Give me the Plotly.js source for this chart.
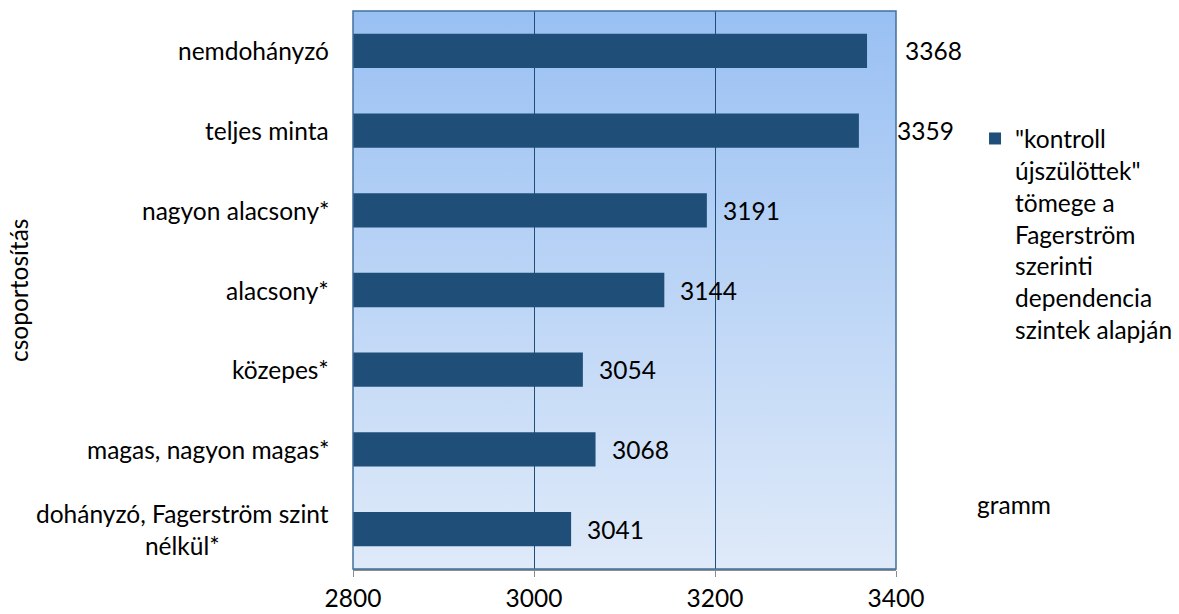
<!DOCTYPE html>
<html>
<head>
<meta charset="utf-8">
<script src="https://cdn.plot.ly/plotly-3.0.1.min.js"></script>
<style>html,body{margin:0;padding:0;background:#fff;}#chart{width:1179px;height:614px;}</style>
</head>
<body>
<div id="chart"></div>
<script>
const categories = ['nemdohányzó', 'teljes minta', 'nagyon alacsony*', 'alacsony*', 'közepes*', 'magas, nagyon magas*', 'dohányzó, Fagerström szint<br>nélkül*'];
const values = [3368, 3359, 3191, 3144, 3054, 3068, 3041];
const xTicks = [2800, 3000, 3200, 3400];
const seriesName = '"kontroll<br>újszülöttek"<br>tömege a<br>Fagerström<br>szerinti<br>dependencia<br>szintek alapján';
const yTitle = 'csoportosítás';
const xTitle = 'gramm';

const FONT = 'Lato, "Liberation Sans", Arial, sans-serif';
const FS = 24.5;
const xMin = xTicks[0], xMax = xTicks[xTicks.length - 1];

const gradSvg = '<svg xmlns="http://www.w3.org/2000/svg" width="100" height="100" preserveAspectRatio="none"><defs><linearGradient id="g" x1="0" y1="0" x2="0" y2="1"><stop offset="0" stop-color="#99c0f3"/><stop offset="1" stop-color="#dfeaf9"/></linearGradient></defs><rect width="100" height="100" fill="url(#g)"/></svg>';
const gradUri = 'data:image/svg+xml;base64,' + btoa(gradSvg);

const trace = {
  type: 'bar',
  orientation: 'h',
  y: categories,
  x: values,
  name: seriesName,
  marker: {color: '#1f4e79'},
  showlegend: true,
  hoverinfo: 'x+y'
};

const annotations = [];
categories.forEach((c, i) => {
  annotations.push({
    xref: 'paper', x: 0, xanchor: 'right', xshift: -22,
    yref: 'y', y: c, yanchor: 'middle',
    text: c, align: 'center', showarrow: false,
    font: {family: FONT, size: FS, color: '#000'}
  });
  const frac = (values[i] - xMin) / (xMax - xMin);
  annotations.push({
    xref: 'x', x: values[i], xanchor: 'left', xshift: frac > 0.85 ? 36 : 14,
    yref: 'y', y: c, yanchor: 'middle',
    text: String(values[i]), showarrow: false,
    font: {family: FONT, size: FS, color: '#000'}
  });
});
annotations.push({
  xref: 'paper', x: -0.617, xanchor: 'center',
  yref: 'paper', y: 0.5, yanchor: 'middle',
  text: yTitle, textangle: -90, showarrow: false,
  font: {family: FONT, size: FS, color: '#000'}
});
annotations.push({
  xref: 'paper', x: 1.217, xanchor: 'center',
  yref: 'paper', y: 0.115, yanchor: 'middle',
  text: xTitle, showarrow: false,
  font: {family: FONT, size: FS, color: '#000'}
});

const layout = {
  width: 1179, height: 614,
  margin: {l: 353, r: 283, t: 11, b: 45, pad: 0, autoexpand: false},
  paper_bgcolor: '#ffffff',
  plot_bgcolor: 'rgba(0,0,0,0)',
  font: {family: FONT, size: FS, color: '#000'},
  bargap: 0.57,
  xaxis: {
    range: [xMin, xMax],
    tickvals: xTicks,
    ticktext: xTicks.map(String),
    ticks: 'outside', ticklen: 6, tickcolor: '#8c8c8c', tickwidth: 1,
    ticklabelstandoff: 1,
    showgrid: true, gridcolor: '#1f4e79', gridwidth: 1,
    showline: true, linecolor: '#8c8c8c', linewidth: 1.5,
    zeroline: false,
    tickfont: {family: FONT, size: FS, color: '#000'},
    fixedrange: true
  },
  yaxis: {
    type: 'category',
    categoryorder: 'array', categoryarray: categories,
    range: [categories.length - 0.5, -0.5],
    showticklabels: false, ticks: '', showgrid: false, zeroline: false,
    showline: false, fixedrange: true
  },
  images: [{
    source: gradUri, xref: 'paper', yref: 'paper', x: 0, y: 1,
    sizex: 1, sizey: 1, xanchor: 'left', yanchor: 'top',
    sizing: 'stretch', layer: 'below'
  }],
  shapes: [{
    type: 'rect', xref: 'paper', yref: 'paper', x0: 0, x1: 1, y0: 0, y1: 1,
    line: {color: '#41709f', width: 1.5}, layer: 'above'
  }],
  legend: {
    xref: 'container', yref: 'container',
    x: 0.827, xanchor: 'left', y: 0.811, yanchor: 'top',
    valign: 'top', bgcolor: 'rgba(0,0,0,0)', borderwidth: 0,
    font: {family: FONT, size: FS, color: '#000'}
  },
  annotations: annotations
};

Plotly.newPlot('chart', [trace], layout, {displayModeBar: false, staticPlot: true});
</script>
</body>
</html>
